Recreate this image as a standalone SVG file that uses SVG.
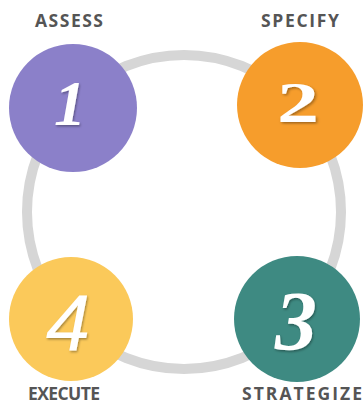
<svg xmlns="http://www.w3.org/2000/svg" width="364" height="409" viewBox="0 0 364 409">
  <defs>
    <style>
      .label { font-family: "Open Sans", "Liberation Sans", sans-serif; font-weight: bold; font-size: 17.5px; fill: #555555; text-anchor: middle; }
      .num { font-family: "Liberation Serif", "DejaVu Serif", serif; font-weight: bold; font-style: italic; fill: #ffffff; text-anchor: middle; filter: url(#sh); }
      .num4 { font-family: "Liberation Sans", "DejaVu Sans", sans-serif; font-weight: normal; font-style: italic; fill: #ffffff; text-anchor: middle; filter: url(#sh); }
      .ring { fill: none; stroke: #d6d6d6; stroke-width: 10; }
    </style>
    <filter id="sh" x="-20%" y="-20%" width="140%" height="140%">
      <feDropShadow dx="1" dy="1.5" stdDeviation="1" flood-color="#000000" flood-opacity="0.35"/>
    </filter>
  </defs>
  <rect width="364" height="409" fill="#ffffff"/>
  <g id="connectors">
    <circle class="ring" cx="184" cy="212" r="157"/>
  </g>
  <g id="node1">
    <circle cx="73" cy="108" r="64" fill="#8b80c9"/>
    <text class="num" x="70" y="125" font-size="64">1</text>
    <text class="label" x="69" y="27" textLength="68" lengthAdjust="spacing">ASSESS</text>
  </g>
  <g id="node2">
    <circle cx="300" cy="105" r="63" fill="#f69d2c"/>
    <text class="num" transform="translate(298 122) scale(1.45 1)" x="0" y="0" font-size="58" style="font-style: normal">2</text>
    <text class="label" x="300" y="27" textLength="78" lengthAdjust="spacing">SPECIFY</text>
  </g>
  <g id="node3">
    <circle cx="297" cy="319" r="63" fill="#3e8a82"/>
    <text class="num" x="296" y="350" font-size="84">3</text>
    <text class="label" x="302" y="400" textLength="120" lengthAdjust="spacing">STRATEGIZE</text>
  </g>
  <g id="node4">
    <circle cx="71" cy="319" r="62" fill="#fbc95a"/>
    <text class="num4" x="68" y="350" font-size="80">4</text>
    <text class="label" x="64" y="400" textLength="72" lengthAdjust="spacing">EXECUTE</text>
  </g>
</svg>
